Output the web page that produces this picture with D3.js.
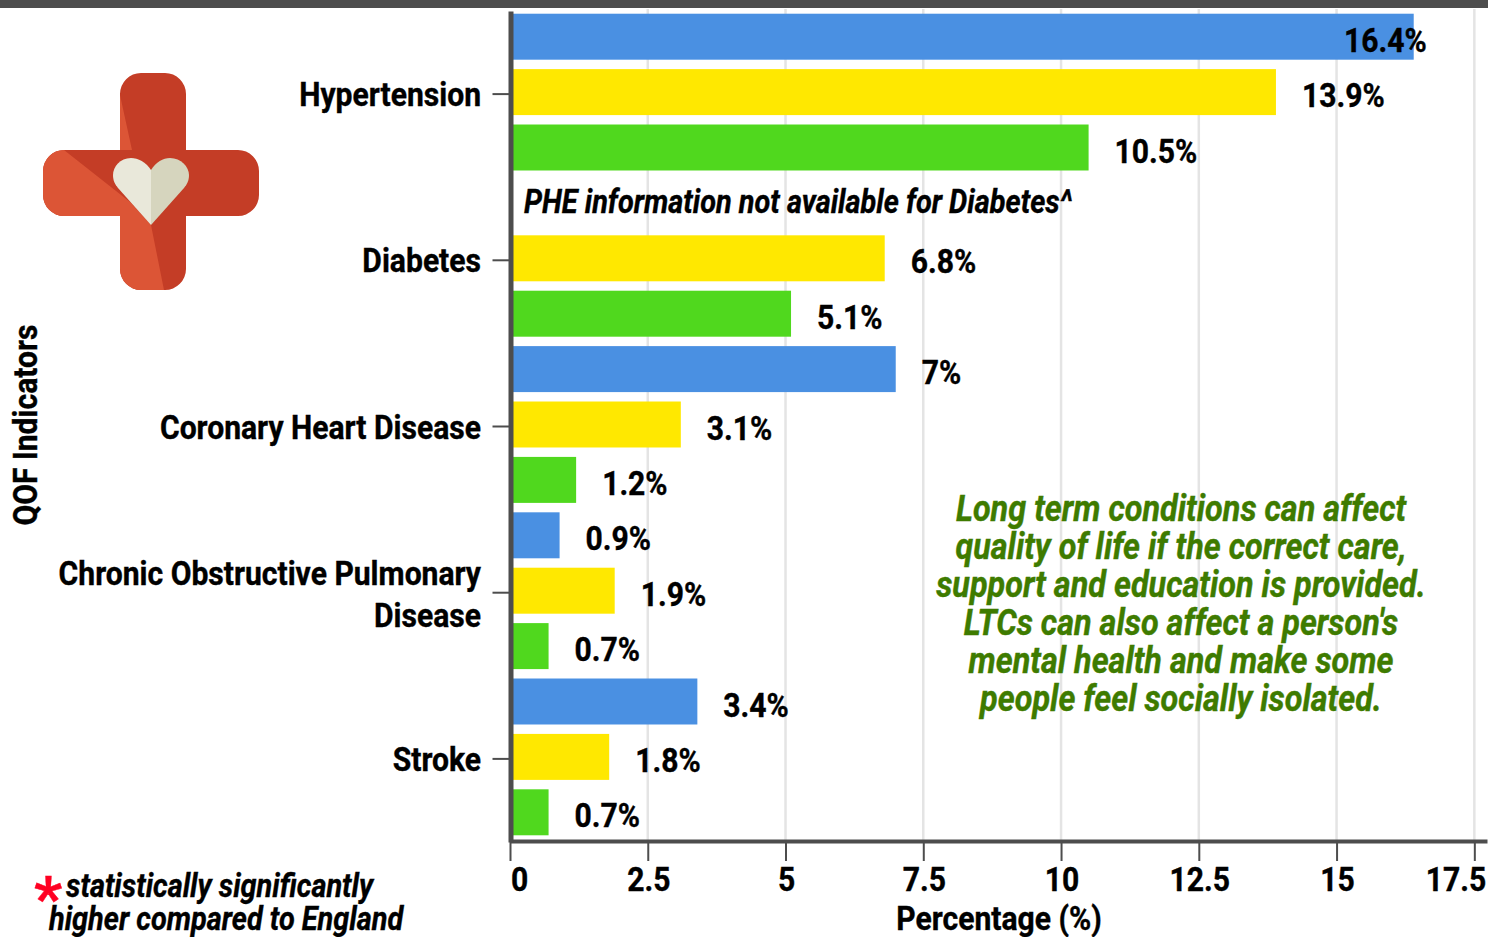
<!DOCTYPE html>
<html>
<head>
<meta charset="utf-8">
<script src="https://cdn.jsdelivr.net/npm/d3@7"></script>
<style>
  html, body { margin: 0; padding: 0; background: #fff; overflow: hidden; }
  svg { display: block; }
  text { font-family: Roboto, sans-serif; font-weight: 700; fill: #000; }
</style>
</head>
<body>
<svg></svg>
<script>
const width = 1488;
const height = 937;

// data
const categories = ["Hypertension", "Diabetes", "Coronary Heart Disease", "Chronic Obstructive Pulmonary Disease", "Stroke"];
const categoryLines = [["Hypertension"], ["Diabetes"], ["Coronary Heart Disease"], ["Chronic Obstructive Pulmonary", "Disease"], ["Stroke"]];
const seriesNames = ["PHE", "CCG", "Practice"];
const seriesColors = ["#4a90e2", "#ffe800", "#50d81e"];
const pheValues = [16.4, null, 7, 0.9, 3.4];
const ccgValues = [13.9, 6.8, 3.1, 1.9, 1.8];
const practiceValues = [10.5, 5.1, 1.2, 0.7, 0.7];
const seriesValues = [pheValues, ccgValues, practiceValues];
const xTicks = [0, 2.5, 5, 7.5, 10, 12.5, 15, 17.5];
const noteLines = [
  "Long term conditions can affect",
  "quality of life if the correct care,",
  "support and education is provided.",
  "LTCs can also affect a person's",
  "mental health and make some",
  "people feel socially isolated."
];

const squeeze = 0.885; // Roboto Condensed is not installed, so regular Roboto gets narrowed
const italicSqueeze = 0.85;
const axisColor = "#4d4d4d";

const svg = d3.select("svg")
  .attr("width", width)
  .attr("height", height);

const rows = [];
categories.forEach((c, i) => {
  seriesNames.forEach((s, j) => {
    rows.push({ key: c + "|" + s, category: c, value: seriesValues[j][i], color: seriesColors[j] });
  });
});

// Scales
const x = d3.scaleLinear().domain([0, 17.73]).range([510, 1487]);
const y = d3.scaleBand().domain(rows.map(d => d.key)).range([9, 840]).paddingInner(0.17).paddingOuter(0.085);
const yCat = d3.scaleBand().domain(categories).range([11, 842]);

// narrowed text, placed at px,py
function label(parent, str, px, py, size, anchor, opts = {}) {
  const sx = opts.squeeze || (opts.italic ? italicSqueeze : squeeze);
  return parent.append("text")
    .attr("transform", `translate(${px},${py}) ${opts.rotate ? "rotate(-90) " : ""}scale(${sx},1)`)
    .attr("text-anchor", anchor)
    .attr("font-size", size)
    .attr("font-style", opts.italic ? "italic" : "normal")
    .style("fill", opts.color || "#000")
    .style("stroke", opts.color || "#000")
    .style("stroke-width", 0.4)
    .text(str);
}

// top strip
svg.append("rect").attr("width", width).attr("height", 8).attr("fill", axisColor);

// Grid
svg.append("g").selectAll("line")
  .data(xTicks.slice(1))
  .join("line")
  .attr("x1", d => x(d)).attr("x2", d => x(d))
  .attr("y1", 9).attr("y2", 840)
  .attr("stroke", "#e4e4e4")
  .attr("stroke-width", 2.5);

// Bars
svg.append("g").selectAll("rect")
  .data(rows.filter(d => d.value !== null))
  .join("rect")
  .attr("x", x(0))
  .attr("y", d => y(d.key))
  .attr("width", d => x(d.value) - x(0))
  .attr("height", y.bandwidth())
  .attr("fill", d => d.color);

// Axes
const xAxis = svg.append("g")
  .attr("transform", "translate(0,841)")
  .call(d3.axisBottom(x).tickValues(xTicks).tickSize(20).tickSizeOuter(0).tickFormat(""));
xAxis.select(".domain").attr("stroke", axisColor).attr("stroke-width", 4);
xAxis.selectAll(".tick line").attr("stroke", axisColor).attr("stroke-width", 2);

const yAxis = svg.append("g")
  .attr("transform", "translate(510.5,0)")
  .call(d3.axisLeft(yCat).tickSize(18).tickSizeOuter(0).tickFormat(""));
yAxis.select(".domain").attr("stroke", axisColor).attr("stroke-width", 5);
yAxis.selectAll(".tick line").attr("stroke", axisColor).attr("stroke-width", 2);

// Tick labels (first and last pulled in from the plot edges)
xTicks.forEach((t, i) => {
  const anchor = i === 0 ? "start" : i === xTicks.length - 1 ? "end" : "middle";
  const px = i === 0 ? x(t) + 1 : i === xTicks.length - 1 ? x(t) + 12 : x(t) + 1;
  label(svg, String(t), px, 891, 34, anchor);
});

categories.forEach((c, i) => {
  const lines = categoryLines[i];
  const mid = yCat(c) + yCat.bandwidth() / 2;
  lines.forEach((ln, k) => {
    const py = lines.length === 1 ? mid + 12 : mid - 8 + k * 42;
    label(svg, ln, 481, py, 34, "end");
  });
});

// Value labels, the longest one would run off past the grid so it stops at 1344
rows.filter(d => d.value !== null).forEach(d => {
  const px = Math.min(x(d.value) + 26, 1344);
  label(svg, d.value + "%", px, y(d.key) + y.bandwidth() / 2 + 15, 34, "start");
});

// Titles
label(svg, "QOF Indicators", 37, 425, 34, "middle", { rotate: true });
label(svg, "Percentage (%)", 999, 930, 34, "middle");

// Annotations
label(svg, "PHE information not available for Diabetes^", 524, 213, 34, "start", { italic: true });
noteLines.forEach((ln, i) => {
  label(svg, ln, 1181, 521 + i * 38, 36, "middle", { italic: true, color: "#3e7b00", squeeze: 0.9 });
});
label(svg, "*", 34, 920, 62, "start", { color: "#ff0022", squeeze: 1 });
label(svg, "statistically significantly", 66, 897, 34, "start", { italic: true });
label(svg, "higher compared to England", 49, 930, 34, "start", { italic: true });

// Icon
const defs = svg.append("defs");
const clip = defs.append("clipPath").attr("id", "cross");
clip.append("rect").attr("x", 120).attr("y", 73).attr("width", 66).attr("height", 217).attr("rx", 21);
clip.append("rect").attr("x", 43).attr("y", 150).attr("width", 216).attr("height", 66).attr("rx", 21);

const icon = svg.append("g").attr("clip-path", "url(#cross)");
icon.append("rect").attr("x", 43).attr("y", 73).attr("width", 216).attr("height", 217).attr("fill", "#c43d26");
icon.append("path").attr("fill", "#dc5536")
  .attr("d", "M43,150 L64,150 L130,202 L151,225 L164,290 L43,290 Z M120,95 L132,150 L120,150 Z");
svg.append("path").attr("fill", "#e9e8da")
  .attr("d", "M151,170 C146,162 138,158 131,158 C120,158 113,167 113,175 C113,181 115,184 118,188 L151,225 Z");
svg.append("path").attr("fill", "#d6d5be")
  .attr("d", "M151,170 C156,162 163,158 170,158 C181,158 189,167 189,175 C189,181 187,184 184,188 L151,225 Z");
</script>
</body>
</html>
